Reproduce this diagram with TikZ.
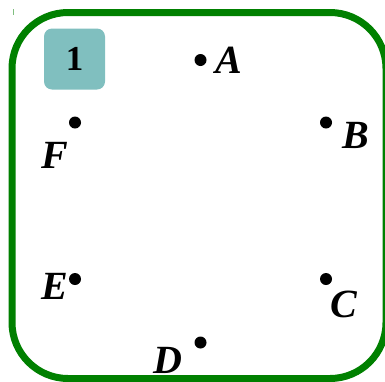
\documentclass[tikz,border=0pt]{standalone}
\usepackage{fontspec}
\setmainfont{Liberation Serif}
\begin{document}
\begin{tikzpicture}[x=1pt,y=-1pt,
  frameline/.style={draw=green!50!black,line width=7pt,rounded corners=56pt},
  badge/.style={fill=teal!50,rounded corners=8pt,minimum width=61pt,minimum height=61pt,inner sep=0pt,font=\fontsize{35}{42}\selectfont\bfseries},
  pt/.style={circle,fill=black,inner sep=0pt,minimum size=12pt},
  lbl/.style={inner sep=0pt,font=\fontsize{40}{48}\selectfont\bfseries\itshape}]
\useasboundingbox (0,0) rectangle (385,381);
\clip (0,0) rectangle (385,381);
\draw[frameline] (12,12.5) rectangle (386,378.5);
\draw[green!50!black!50,line width=1pt] (13,9) -- (13,15);
\node[badge] (n1) at (74.5,59) {1};
\node[pt] (pA) at (200.5,60) {};
\node[pt] (pB) at (326,122.5) {};
\node[pt] (pC) at (326,279) {};
\node[pt] (pD) at (200.5,342.5) {};
\node[pt] (pE) at (75,279) {};
\node[pt] (pF) at (75,122.5) {};
\node[lbl] (lA) at (229,60) {A};
\node[lbl] (lB) at (356,135) {B};
\node[lbl] (lC) at (344,304) {C};
\node[lbl] (lD) at (168,360) {D};
\node[lbl] (lE) at (55,286) {E};
\node[lbl] (lF) at (55,155) {F};
\end{tikzpicture}
\end{document}
